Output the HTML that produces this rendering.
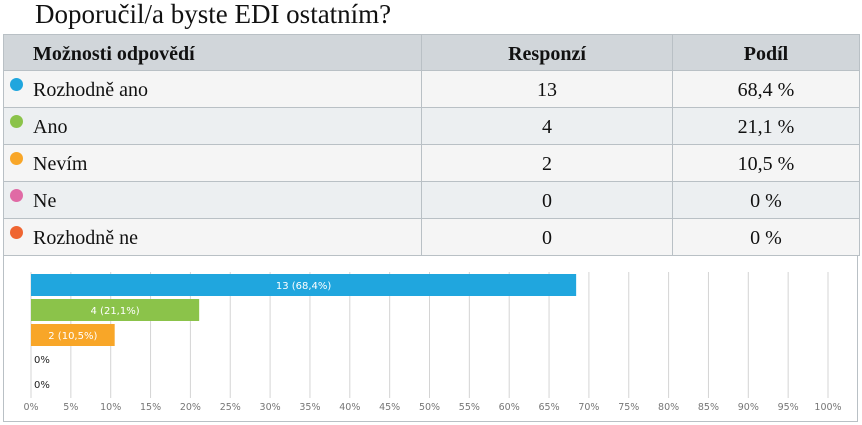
<!DOCTYPE html>
<html><head><meta charset="utf-8"><style>
body{margin:0;width:862px;height:425px;background:#fff;position:relative;overflow:hidden;font-family:"Liberation Serif",serif}
.a{position:absolute}
.cell{position:absolute;box-sizing:border-box;border-right:1px solid #b9c0c5;border-bottom:1px solid #b9c0c5;font-size:20px;color:#111;line-height:38px}
.dot{position:absolute;width:13px;height:13px;border-radius:50%}
</style></head><body>
<div class="a" style="left:35px;top:-1px;font-size:27px;color:#111">Doporučil/a byste EDI ostatním?</div>
<div class="a" style="left:3px;top:34px;width:856px;height:222px;border-top:1px solid #b9c0c5;border-left:1px solid #b9c0c5" id="tbl"></div>
<div class="a" style="left:3px;top:255px;width:855px;height:167px;box-sizing:border-box;border:1px solid #b9c0c5;border-top:none"></div>
<svg class="a" style="left:0;top:0" width="862" height="425" id="svg"></svg>
<script>
const labels=["Rozhodně ano","Ano","Nevím","Ne","Rozhodně ne"];
const counts=[13,4,2,0,0];
const shares=[68.4,21.1,10.5,0,0];
const colors=["#20a6de","#8bc34a","#f8a628","#e06aa5","#ef6531"];
const ticks=[0,5,10,15,20,25,30,35,40,45,50,55,60,65,70,75,80,85,90,95,100];
const fmt=v=>String(v).replace('.',',');
const tbl=document.getElementById('tbl');
function cell(x,y,w,h,bg,txt,align,bold,name){
  const d=document.createElement('div');d.className='cell';
  
  
  d.style.cssText+=`left:${x}px;top:${y}px;width:${w}px;height:${h}px;background:${bg};text-align:${align};font-weight:${bold?'bold':'normal'};padding-left:${align=='left'?29:0}px`;
  d.textContent=txt;tbl.appendChild(d);return d;
}
const hb='#d1d6da';
cell(0,0,418,36,hb,'Možnosti odpovědí','left',true,'header-options');
cell(418,0,251,36,hb,'Responzí','center',true,'header-responses');
cell(669,0,187,36,hb,'Podíl','center',true,'header-share');
labels.forEach((l,i)=>{
  const y=36+i*37,bg=i%2?'#eceff1':'#f5f5f5';
  const c=cell(0,y,418,37,bg,l,'left',false,'option-label');
  const d=document.createElement('div');d.className='dot';
  
  
  d.style.cssText=`left:6px;top:7px;background:${colors[i]}`;c.appendChild(d);
  cell(418,y,251,37,bg,String(counts[i]),'center',false,'response-count');
  cell(669,y,187,37,bg,fmt(shares[i])+' %','center',false,'response-share');
});
const svg=document.getElementById('svg'),NS='http://www.w3.org/2000/svg';
const X=v=>31+v*7.97;
const rowY=i=>274+i*25;
function el(t,a,name){const e=document.createElementNS(NS,t);for(const k in a)e.setAttribute(k,a[k]);
  
  
  svg.appendChild(e);return e;}
ticks.forEach(t=>{
  el('line',{x1:X(t),x2:X(t),y1:272,y2:398,stroke:'#d4d4d4','stroke-width':1},'gridline');
  const tx=el('text',{x:X(t),y:410,'text-anchor':'middle','font-size':9.5,fill:'#777','font-family':'DejaVu Sans, sans-serif'},'x-tick-label');tx.textContent=t+'%';
});
shares.forEach((s,i)=>{
  const y=rowY(i);
  if(s>0){
    el('rect',{x:X(0),y:y,width:X(s)-X(0),height:22,fill:colors[i]},'bar');
    const t=el('text',{x:(X(0)+X(s))/2,y:y+15,'text-anchor':'middle','font-size':10,fill:'#fff','font-family':'DejaVu Sans, sans-serif'},'bar-label');
    t.textContent=counts[i]+' ('+fmt(s)+'%)';
  } else {
    const t=el('text',{x:X(0)+3,y:y+14,'font-size':10,fill:'#222','font-family':'DejaVu Sans, sans-serif'},'bar-label');
    t.textContent='0%';
  }
});
</script>
</body></html>
